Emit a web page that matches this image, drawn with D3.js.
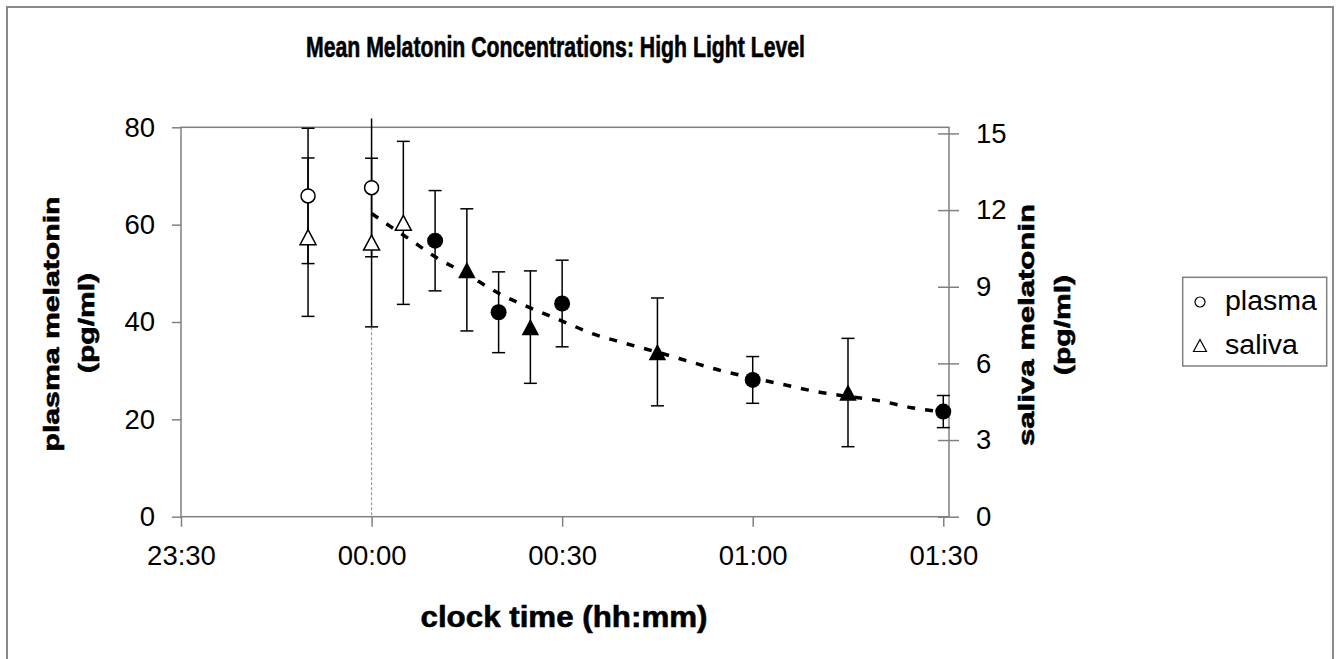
<!DOCTYPE html>
<html>
<head>
<meta charset="utf-8">
<script src="https://cdn.jsdelivr.net/npm/d3@7"></script>
<style>
  body { margin: 0; background: #fff; }
  text { font-family: "Liberation Sans", Arial, sans-serif; fill: #000; }
</style>
</head>
<body>
<svg></svg>
<script>
// minutes relative to 00:00
let plasmaTime = [-10, 0, 10, 20, 30, 60, 90];
let plasmaMean = [65.9, 67.6, 56.7, 42.0, 43.8, 28.1, 21.6];
let plasmaErr = [13.9, 14.2, 10.3, 8.3, 8.9, 4.8, 3.3];
let plasmaFilled = [false, false, true, true, true, true, true];

let salivaTime = [-10, 0, 5, 15, 25, 45, 75];
let salivaMean = [10.94, 10.73, 11.5, 9.66, 7.42, 6.45, 4.86];
let salivaErr = [3.1, 3.3, 3.19, 2.39, 2.2, 2.11, 2.12];
let salivaFilled = [false, false, false, true, true, true, true];

// dotted trend curve (plasma scale)
let trendTime = [0, 3, 6, 10, 15, 20, 25, 30, 35, 40, 45, 50, 55, 60, 65, 70, 75, 80, 85, 90];
let trendValue = [62.3, 59.6, 57.0, 53.4, 49.8, 45.9, 42.9, 40.2, 37.5, 35.6, 33.8, 31.9, 30.0, 28.5, 27.1, 25.7, 24.7, 23.8, 22.4, 21.5];

let xTicks = [-30, 0, 30, 60, 90];
let leftTicks = [0, 20, 40, 60, 80];
let rightTicks = [0, 3, 6, 9, 12, 15];

let width = 1340;
let height = 659;
let plot = {left: 181, right: 949, top: 127.3, bottom: 516.7};

let svg = d3.select('svg')
    .attr('width', width)
    .attr('height', height);

let xScale = d3.scaleLinear().domain([-30, 90.9]).range([plot.left, plot.right]);
let yLeft = d3.scaleLinear().domain([0, 80]).range([plot.bottom, plot.top]);
let yRight = d3.scaleLinear().domain([0, 15.24]).range([plot.bottom, plot.top]);

let fmtTime = (m) => {
    let t = (m + 1440) % 1440;
    return d3.format('02d')(Math.floor(t / 60)) + ':' + d3.format('02d')(t % 60);
};

// outer frame
svg.append('rect')
    .attr('x', 7).attr('y', 7)
    .attr('width', 1326).attr('height', 700)
    .attr('fill', 'none')
    .attr('stroke', '#8a8a8a')
    .attr('stroke-width', 2);

// plot box
svg.append('rect')
    .attr('x', plot.left).attr('y', plot.top)
    .attr('width', plot.right - plot.left)
    .attr('height', plot.bottom - plot.top)
    .attr('fill', 'none')
    .attr('stroke', '#808080')
    .attr('stroke-width', 1.5);

let styleAxis = (g) => {
    g.select('.domain').remove();
    g.selectAll('.tick line').attr('stroke', '#808080').attr('stroke-width', 1.5);
    g.selectAll('.tick text')
        .attr('fill', '#000')
        .style('font-size', '27.5px')
        .style('font-family', '"Liberation Sans", Arial, sans-serif');
};

svg.append('g')
    .attr('transform', 'translate(' + plot.left + ',0)')
    .call(d3.axisLeft(yLeft).tickValues(leftTicks).tickSize(9).tickPadding(17))
    .call(styleAxis);

svg.append('g')
    .attr('transform', 'translate(0,' + plot.bottom + ')')
    .call(d3.axisBottom(xScale).tickValues(xTicks).tickFormat(fmtTime).tickSize(10).tickPadding(19))
    .call(styleAxis);

let rightAxis = svg.append('g')
    .attr('transform', 'translate(' + plot.right + ',0)')
    .call(d3.axisRight(yRight).tickValues(rightTicks).tickSize(10).tickPadding(17))
    .call(styleAxis);
rightAxis.selectAll('.tick line').attr('x1', -11);

// reference line at 00:00
svg.append('line')
    .attr('x1', xScale(0)).attr('x2', xScale(0))
    .attr('y1', plot.top).attr('y2', plot.bottom)
    .attr('stroke', '#9a9a9a')
    .attr('stroke-width', 1.2)
    .attr('stroke-dasharray', '3,2');

// trend
let trendData = trendTime.map((t, i) => ({t: t, v: trendValue[i]}));
svg.append('path')
    .datum(trendData)
    .attr('fill', 'none')
    .attr('stroke', '#000')
    .attr('stroke-width', 3.5)
    .attr('stroke-dasharray', '8,10')
    .attr('d', d3.line().x(d => xScale(d.t)).y(d => yLeft(d.v)).curve(d3.curveMonotoneX));

let plasma = plasmaTime.map((t, i) => ({t: t, m: plasmaMean[i], e: plasmaErr[i], f: plasmaFilled[i]}));
let saliva = salivaTime.map((t, i) => ({t: t, m: salivaMean[i], e: salivaErr[i], f: salivaFilled[i]}));

let drawErrors = (data, yScale, maxVal) => {
    let g = svg.append('g').attr('stroke', '#000').attr('stroke-width', 1.5);
    data.forEach(d => {
        let x = xScale(d.t);
        g.append('line')
            .attr('x1', x).attr('x2', x)
            .attr('y1', yScale(d.m - d.e)).attr('y2', yScale(d.m + d.e));
        g.append('line')
            .attr('x1', x - 6.5).attr('x2', x + 6.5)
            .attr('y1', yScale(d.m - d.e)).attr('y2', yScale(d.m - d.e));
        if (d.m + d.e <= maxVal) {
            g.append('line')
                .attr('x1', x - 6.5).attr('x2', x + 6.5)
                .attr('y1', yScale(d.m + d.e)).attr('y2', yScale(d.m + d.e));
        }
    });
};

drawErrors(plasma, yLeft, 80);
drawErrors(saliva, yRight, 15.24);

let triPath = (w, h) => 'M0,' + (-h / 2) + 'L' + (w / 2) + ',' + (h / 2) + 'L' + (-w / 2) + ',' + (h / 2) + 'Z';

svg.append('g')
    .selectAll('path')
    .data(plasma)
    .enter()
    .append('path')
    .attr('d', d => d.f ? d3.symbol(d3.symbolCircle, Math.PI * 64)() : d3.symbol(d3.symbolCircle, Math.PI * 49)())
    .attr('transform', d => 'translate(' + xScale(d.t) + ',' + yLeft(d.m) + ')')
    .attr('fill', d => d.f ? '#000' : '#fff')
    .attr('stroke', '#000')
    .attr('stroke-width', d => d.f ? 0 : 1.5);

svg.append('g')
    .selectAll('path')
    .data(saliva)
    .enter()
    .append('path')
    .attr('d', d => d.f ? triPath(17.5, 16.5) : triPath(16, 15))
    .attr('transform', d => 'translate(' + xScale(d.t) + ',' + yRight(d.m) + ')')
    .attr('fill', d => d.f ? '#000' : '#fff')
    .attr('stroke', '#000')
    .attr('stroke-width', d => d.f ? 0 : 1.5)
    .attr('stroke-linejoin', 'miter');

// titles
let boldText = (sel, size) => sel
    .style('font-size', size + 'px')
    .style('font-weight', 'bold')
    .style('stroke', '#000')
    .style('stroke-width', 0.6);

svg.append('text')
    .attr('x', 555.5).attr('y', 57.3)
    .attr('text-anchor', 'middle')
    .attr('textLength', 499)
    .attr('lengthAdjust', 'spacingAndGlyphs')
    .call(boldText, 29)
    .text('Mean Melatonin Concentrations: High Light Level');

svg.append('text')
    .attr('x', 564).attr('y', 627)
    .attr('text-anchor', 'middle')
    .attr('textLength', 287)
    .attr('lengthAdjust', 'spacingAndGlyphs')
    .call(boldText, 29)
    .text('clock time (hh:mm)');

let yTitle = (x, y, len, txt) => {
    svg.append('text')
        .attr('transform', 'translate(' + x + ',' + y + ') rotate(-90)')
        .attr('text-anchor', 'middle')
        .attr('textLength', len)
        .attr('lengthAdjust', 'spacingAndGlyphs')
        .call(boldText, 22)
        .text(txt);
};
yTitle(58.5, 324, 255, 'plasma melatonin');
yTitle(94, 323, 100, '(pg/ml)');
yTitle(1034, 325, 242, 'saliva melatonin');
yTitle(1070, 325, 100, '(pg/ml)');

// legend
let legend = svg.append('g').attr('id', 'legend');
legend.append('rect')
    .attr('x', 1182.7).attr('y', 277.3)
    .attr('width', 144).attr('height', 88.7)
    .attr('fill', '#fff')
    .attr('stroke', '#808080')
    .attr('stroke-width', 1.5);
legend.append('path')
    .attr('d', d3.symbol(d3.symbolCircle, Math.PI * 25)())
    .attr('transform', 'translate(1200,302)')
    .attr('fill', '#fff').attr('stroke', '#000').attr('stroke-width', 1.2);
legend.append('path')
    .attr('d', triPath(13, 12))
    .attr('transform', 'translate(1200,345.5)')
    .attr('fill', '#fff').attr('stroke', '#000').attr('stroke-width', 1.2);
legend.append('text')
    .attr('x', 1225).attr('y', 310)
    .attr('textLength', 92).attr('lengthAdjust', 'spacingAndGlyphs')
    .style('font-size', '27px')
    .text('plasma');
legend.append('text')
    .attr('x', 1225).attr('y', 353.5)
    .attr('textLength', 73).attr('lengthAdjust', 'spacingAndGlyphs')
    .style('font-size', '27px')
    .text('saliva');
</script>
</body>
</html>
